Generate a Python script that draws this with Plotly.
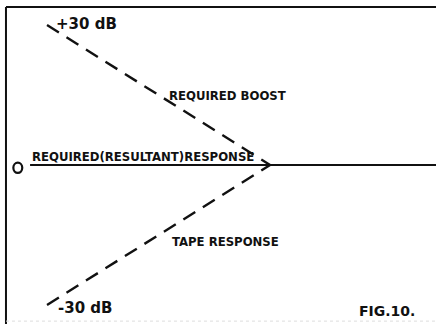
import plotly.graph_objects as go

# relative frequency position (0 = start of curves, 1 = turnover point) and level in dB
boost_x = [0, 1]
boost_db = [30, 0]
tape_x = [0, 1]
tape_db = [-30, 0]
resp_x = [-0.076, 1.8]
resp_db = [0, 0]

ink = "#111111"
narrow = "DejaVu Sans Condensed, Liberation Sans Narrow, DejaVu Sans, sans-serif"
wide = "DejaVu Sans, Verdana, sans-serif"

fig = go.Figure()

fig.add_trace(go.Scatter(x=boost_x, y=boost_db, mode="lines",
                         line=dict(color=ink, width=2.4, dash="14px,9px")))
fig.add_trace(go.Scatter(x=tape_x, y=tape_db, mode="lines",
                         line=dict(color=ink, width=2.4, dash="14px,9px")))
fig.add_trace(go.Scatter(x=resp_x, y=resp_db, mode="lines",
                         line=dict(color=ink, width=1.8)))

# frame: left, top and a faint bottom edge
fig.add_shape(type="line", x0=-0.184, x1=-0.184, y0=33.86, y1=-35,
              line=dict(color=ink, width=2))
fig.add_shape(type="line", x0=-0.184, x1=1.8, y0=33.86, y1=33.86,
              line=dict(color=ink, width=2))
fig.add_shape(type="line", x0=-0.184, x1=1.8, y0=-33.45, y1=-33.45,
              line=dict(color="#dddddd", width=1, dash="dot"))

# zero marker
fig.add_shape(type="circle", x0=-0.151, x1=-0.111, y0=-1.7, y1=0.5,
              line=dict(color=ink, width=2.2))

labels = [
    ("+30 dB", 0.03, 30.3, wide, 15),
    ("-30 dB", 0.04, -30.7, wide, 15),
    ("REQUIRED BOOST", 0.54, 14.8, narrow, 13),
    ("TAPE RESPONSE", 0.55, -16.3, narrow, 13),
    ("REQUIRED(RESULTANT)RESPONSE", -0.078, 1.8, narrow, 13),
    ("FIG.10.", 1.39, -31.2, wide, 14),
]
for txt, x, y, fam, size in labels:
    fig.add_annotation(x=x, y=y, text="<b>" + txt + "</b>", showarrow=False,
                       xanchor="left", yanchor="middle",
                       font=dict(family=fam, size=size, color=ink))

fig.update_layout(
    width=436, height=324,
    margin=dict(l=0, r=0, t=0, b=0, pad=0),
    paper_bgcolor="white", plot_bgcolor="white",
    showlegend=False,
    xaxis=dict(range=[-0.2108, 1.744], visible=False, fixedrange=True),
    yaxis=dict(range=[-34.07, 35.36], visible=False, fixedrange=True),
)

# drop the page's default body margin so the figure sits at the window corner
fig.write_html("out.html", config={"displayModeBar": False},
               post_script="document.body.style.margin='0';")
